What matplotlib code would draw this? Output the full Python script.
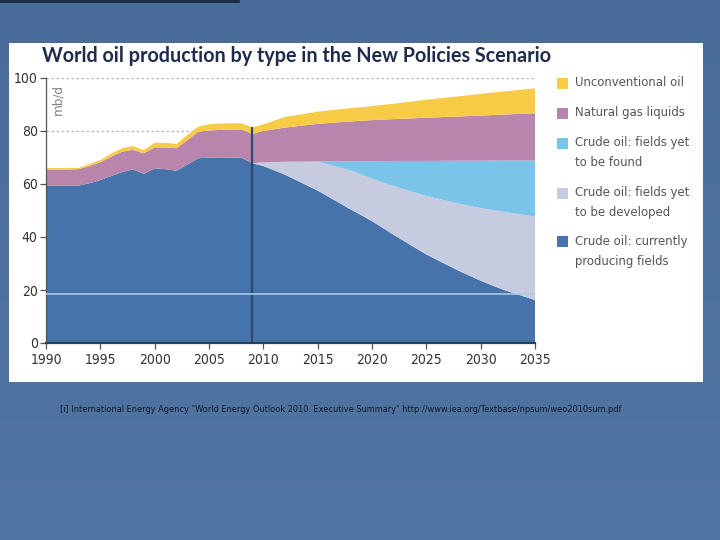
import matplotlib
matplotlib.use("Agg")
import matplotlib.pyplot as plt
import numpy as np
from matplotlib.patches import Rectangle
from matplotlib.lines import Line2D
from matplotlib import font_manager

# data (mb/d)
years = [1990, 1991, 1992, 1993, 1994, 1995, 1996, 1997, 1998, 1999,
         2000, 2001, 2002, 2003, 2004, 2005, 2006, 2007, 2008, 2009,
         2010, 2012, 2015, 2018, 2020, 2022, 2025, 2028, 2030, 2032, 2035]

producing = [59.4, 59.4, 59.3, 59.4, 60.3, 61.5, 63.0, 64.5, 65.5, 63.8,
             65.9, 65.6, 65.0, 67.3, 69.7, 70.0, 70.0, 70.0, 69.9, 67.8,
             66.8, 63.5, 57.5, 50.5, 46.0, 40.8, 33.4, 27.2, 23.5, 20.2, 16.2]
developed = [0] * 20 + [1.4, 4.9, 10.9, 14.7, 16.0, 18.4, 22.1, 25.4, 27.4, 29.4, 31.5]
found = [0] * 20 + [0.0, 0.0, 0.1, 3.4, 6.6, 9.5, 13.2, 16.2, 17.9, 19.3, 21.2]
ngl = [6.1, 6.1, 6.2, 6.2, 6.5, 6.7, 7.3, 7.7, 7.4, 7.8,
       7.9, 8.2, 8.5, 9.2, 10.0, 10.2, 10.4, 10.6, 10.7, 11.1,
       11.8, 12.9, 14.2, 15.0, 15.5, 15.8, 16.3, 16.7, 17.0, 17.3, 17.8]
unconventional = [0.5, 0.5, 0.5, 0.5, 0.7, 0.8, 1.2, 1.3, 1.4, 1.2,
                  1.8, 1.7, 1.6, 2.0, 1.9, 2.3, 2.4, 2.3, 2.3, 2.5,
                  2.5, 4.0, 4.6, 5.0, 5.3, 5.8, 6.8, 7.6, 8.2, 8.7, 9.4]

labels = ["Crude oil: currently\nproducing fields",
          "Crude oil: fields yet\nto be developed",
          "Crude oil: fields yet\nto be found",
          "Natural gas liquids",
          "Unconventional oil"]
colors = ["#4673a9", "#c6cbe0", "#7ac4ea", "#b886ad", "#f7cb45"]

yticks = [0, 20, 40, 60, 80, 100]
xticks = [1990, 1995, 2000, 2005, 2010, 2015, 2020, 2025, 2030, 2035]
base_year = 2009

# look for a condensed face, else squeeze with a smaller size
names = {f.name for f in font_manager.fontManager.ttflist}
cond = [f for f in font_manager.fontManager.ttflist
        if "Narrow" in f.name or "Condensed" in f.name or f.stretch in ("condensed", "semi-condensed")]
if "Liberation Sans Narrow" in names:
    narrow = dict(family=["Liberation Sans Narrow", "DejaVu Sans"])
    scale = 1.0
elif cond:
    narrow = dict(family=[cond[0].name, "DejaVu Sans"], stretch=cond[0].stretch)
    scale = 1.0
else:
    narrow = dict(family=["Roboto", "DejaVu Sans"])
    scale = 0.9

fig = plt.figure(figsize=(7.2, 5.4), dpi=100)
fig.patch.set_facecolor("#4d71a0")

# slide background with a soft gradient
bg = fig.add_axes([0, 0, 1, 1], zorder=-10)
grad = np.linspace(0, 1, 256).reshape(-1, 1)
bg.imshow(grad, aspect="auto", extent=[0, 1, 0, 1],
          cmap=matplotlib.colors.LinearSegmentedColormap.from_list("bg", ["#496c9b", "#5276a3"]))
bg.set_axis_off()
fig.add_artist(Line2D([0, 238 / 720], [0.998, 0.998], color="#1b2a44", lw=2))

# white picture box
fig.add_artist(Rectangle((9 / 720, 1 - 382 / 540), 694 / 720, 339 / 540,
                         facecolor="white", edgecolor="none", zorder=-5))

ax = fig.add_axes([46 / 720, 1 - 343 / 540, 489 / 720, 265 / 540])
ax.set_facecolor("none")

for y in yticks[1:]:
    ax.axhline(y, color="#b5b5b5", lw=0.9, ls=(0, (2, 2)), zorder=0)

series = [producing, developed, found, ngl, unconventional]
ax.stackplot(years, series, colors=colors, zorder=2)

totals = np.sum(series, axis=0)
ax.vlines(base_year, 0, totals[years.index(base_year)], color="#2c4a6e", lw=1.6, zorder=3)
ax.axhline(18.4, color="#a9c9ec", lw=1.2, zorder=3)

ax.set_xlim(1990, 2035)
ax.set_ylim(0, 100)
ax.set_xticks(xticks)
ax.set_yticks(yticks)
for s in ["top", "right"]:
    ax.spines[s].set_visible(False)
ax.spines["left"].set_color("#555555")
ax.spines["left"].set_linewidth(0.9)
ax.spines["bottom"].set_color("#2b3d57")
ax.spines["bottom"].set_linewidth(1.6)
ax.spines["bottom"].set_zorder(4)
ax.tick_params(axis="both", colors="#555555", length=4, width=0.9, labelcolor="#333333")
ax.tick_params(axis="y", pad=2)
for lab in ax.get_xticklabels() + ax.get_yticklabels():
    lab.update(narrow)
    lab.set_fontsize(10 * scale)

ax.text(0.025, 0.917, "mb/d", transform=ax.transAxes, rotation=90, ha="center", va="center",
        color="#808080", fontsize=9.5 * scale, **narrow)

fig.text(42 / 720, 1 - 56 / 540, "World oil production by type in the New Policies Scenario",
         fontsize=14.2, fontweight="bold", color="#1d2b4c", family=["Lato", "DejaVu Sans"],
         va="center", ha="left")

# legend, drawn top-down
legend_rows = [83, 113, 143, 193, 242]
for lab, col, row in zip(labels[::-1], colors[::-1], legend_rows):
    fig.add_artist(Rectangle((557 / 720, 1 - (row + 5.5) / 540), 11 / 720, 11 / 540,
                             facecolor=col, edgecolor="none"))
    fig.text(575 / 720, 1 - (row - 7) / 540, lab, fontsize=9.4 * scale, color="#555555",
             va="top", ha="left", linespacing=1.7, **narrow)

fig.text(60 / 720, 1 - 410 / 540,
         '[i] International Energy Agency "World Energy Outlook 2010. Executive Summary" '
         'http://www.iea.org/Textbase/npsum/weo2010sum.pdf',
         fontsize=6.6, color="#111827", va="center", ha="left", **narrow)

fig.savefig("out.png", dpi=100)
